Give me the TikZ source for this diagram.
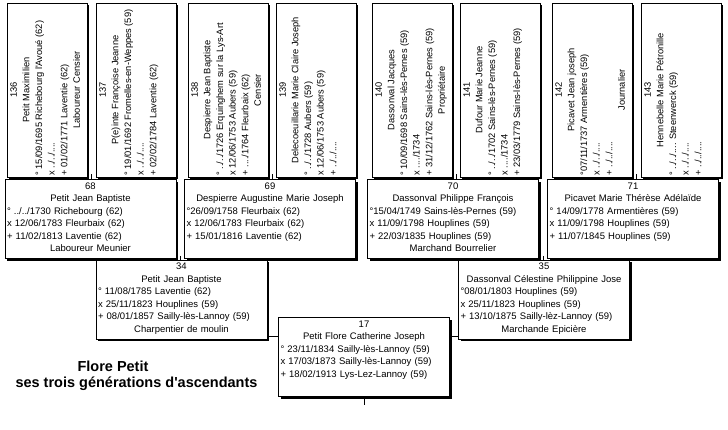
\documentclass[tikz,border=0pt]{standalone}
\usepackage{fontspec}
\setmainfont{Liberation Sans}
\usepackage{graphicx}
\usepackage{tikz}
\usetikzlibrary{calc, shadows}
\setlength{\parindent}{0pt}

\newcommand{\fiche}[6]{%
  {\centering #1\\#2\par}%
  {\raggedright #3\\#4\\#5\par}%
  {\centering\strut #6\par}}
\newcommand{\vfiche}[6]{\rotatebox{90}{\parbox{171pt}{\fontsize{9.3}{12.6}\selectfont\fiche{#1}{#2}{#3}{#4}{#5}{#6}}}}

\begin{document}
\begin{tikzpicture}[x=1pt, y=-1pt, font=\fontsize{9.5}{12.5}\selectfont,
    b/.style={draw, line width=0.9pt, fill=white, inner sep=0pt,
      drop shadow={shadow xshift=2pt, shadow yshift=-2pt, opacity=1, fill=black}},
    h/.style={b, minimum width=171pt, minimum height=79pt, text width=167pt},
    v/.style={b, minimum width=80pt, minimum height=174pt},
    link/.style={draw, line width=0.8pt}]
  \useasboundingbox (0,0) rectangle (728,429);

  \node[v] (p136) at (47,90) {\vfiche{136}{Petit Maximilien}{° 15/09/1695 Richebourg l\textquotesingle Avoué (62)}{x ../../....}{+ 01/02/1771 Laventie (62)}{Laboureur Censier}};
  \node[v] (p137) at (136,90) {\vfiche{137}{P(e)inte Françoise Jeanne}{° 19/01/1692 Fromelles-en-Weppes (59)}{x ../../....}{+ 02/02/1784 Laventie (62)}{}};
  \node[v] (p138) at (228,90) {\vfiche{138}{Despierre Jean Baptiste}{° ../../1726 Erquinghem sur la Lys-Art}{x 12/06/1753 Aubers (59)}{+ ..../1764 Fleurbaix (62)}{Censier}};
  \node[v] (p139) at (316,90) {\vfiche{139}{Delecoeuillarie Marie Claire Joseph}{° ../../1728 Aubers (59)}{x 12/06/1753 Aubers (59)}{+ ../../....}{}};
  \node[v] (p140) at (412,90) {\vfiche{140}{Dassonval Jacques}{° 10/09/1698 Sains-lès-Pernes (59)}{x ..../1734}{+ 31/12/1762 Sains-lès-Pernes (59)}{Propriétaire}};
  \node[v] (p141) at (500,90) {\vfiche{141}{Dufour Marie Jeanne}{° ../../1702 Sains-lès-Pernes (59)}{x ..../1734}{+ 23/03/1779 Sains-lès-Pernes (59)}{}};
  \node[v] (p142) at (592,90) {\vfiche{142}{Picavet Jean joseph}{°07/11/1737 Armentières (59)}{x ../../....}{+ ../../....}{Journalier}};
  \node[v] (p143) at (681,90) {\vfiche{143}{Hennebelle Marie Pétronille}{° ../../.... Steenwerck (59)}{x ../../....}{+ ../../....}{}};

  \node[h] (p68) at (90.5,219) {\fiche{68}{Petit Jean Baptiste}{° ../../1730 Richebourg (62)}{x 12/06/1783 Fleurbaix (62)}{+ 11/02/1813 Laventie (62)}{Laboureur Meunier}};
  \node[h] (p69) at (270,219) {\fiche{69}{Despierre Augustine Marie Joseph}{°26/09/1758 Fleurbaix (62)}{x 12/06/1783 Fleurbaix (62)}{+ 15/01/1816 Laventie (62)}{}};
  \node[h] (p70) at (453,219) {\fiche{70}{Dassonval Philippe François}{°15/04/1749 Sains-lès-Pernes (59)}{x 11/09/1798 Houplines (59)}{+ 22/03/1835 Houplines (59)}{Marchand Bourrelier}};
  \node[h] (p71) at (633,219) {\fiche{71}{Picavet Marie Thérèse Adélaïde}{° 14/09/1778 Armentières (59)}{x 11/09/1798 Houplines (59)}{+ 11/07/1845 Houplines (59)}{}};

  \node[h] (p34) at (181.5,299.5) {\fiche{34}{Petit Jean Baptiste}{° 11/08/1785 Laventie (62)}{x 25/11/1823 Houplines (59)}{+ 08/01/1857 Sailly-lès-Lannoy (59)}{Charpentier de moulin}};
  \node[h] (p35) at (544,299.5) {\fiche{35}{Dassonval Célestine Philippine Jose}{°08/01/1803 Houplines (59)}{x 25/11/1823 Houplines (59)}{+ 13/10/1875 Sailly-lèz-Lannoy (59)}{Marchande Epicière}};

  \node[h] (p17) at (364,357) {\fiche{17}{Petit Flore Catherine Joseph}{° 23/11/1834 Sailly-lès-Lannoy (59)}{x 17/03/1873 Sailly-lès-Lannoy (59)}{+ 18/02/1913 Lys-Lez-Lannoy (59)}{}};

  \node[font=\fontsize{14.5}{16}\selectfont\bfseries, align=left, anchor=west] (titre) at (12,376)
    {\hspace*{62pt}Flore Petit\\ses trois générations d\textquotesingle ascendants};

  \coordinate (j68) at ($(p136.south east)!.5!(p137.south west)$);
  \coordinate (j69) at ($(p138.south east)!.5!(p139.south west)$);
  \coordinate (j70) at ($(p140.south east)!.5!(p141.south west)$);
  \coordinate (j71) at ($(p142.south east)!.5!(p143.south west)$);
  \coordinate (j34) at ($(p68.south east)!.5!(p69.south west)$);
  \coordinate (j35) at ($(p70.south east)!.5!(p71.south west)$);
  \coordinate (bas) at ([yshift=-8pt]p17.south);

  \draw[link] ([yshift=3pt]j68) -- (j68 |- p68.north);
  \draw[link] ([yshift=3pt]j69) -- (j69 |- p69.north);
  \draw[link] ([yshift=3pt]j70) -- (j70 |- p70.north);
  \draw[link] ([yshift=3pt]j71) -- (j71 |- p71.north);
  \draw[link] ([yshift=3pt]j34) -- (j34 |- p34.north);
  \draw[link] ([yshift=3pt]j35) -- (j35 |- p35.north);
  \draw[link] ([yshift=3pt]p34.south east) -- ([yshift=3pt]p34.south east -| p17.west);
  \draw[link] ([yshift=3pt]p35.south west) -- ([yshift=3pt]p35.south west -| p17.east);
  \draw[link] (p17.south) -- (bas);
\end{tikzpicture}
\end{document}
